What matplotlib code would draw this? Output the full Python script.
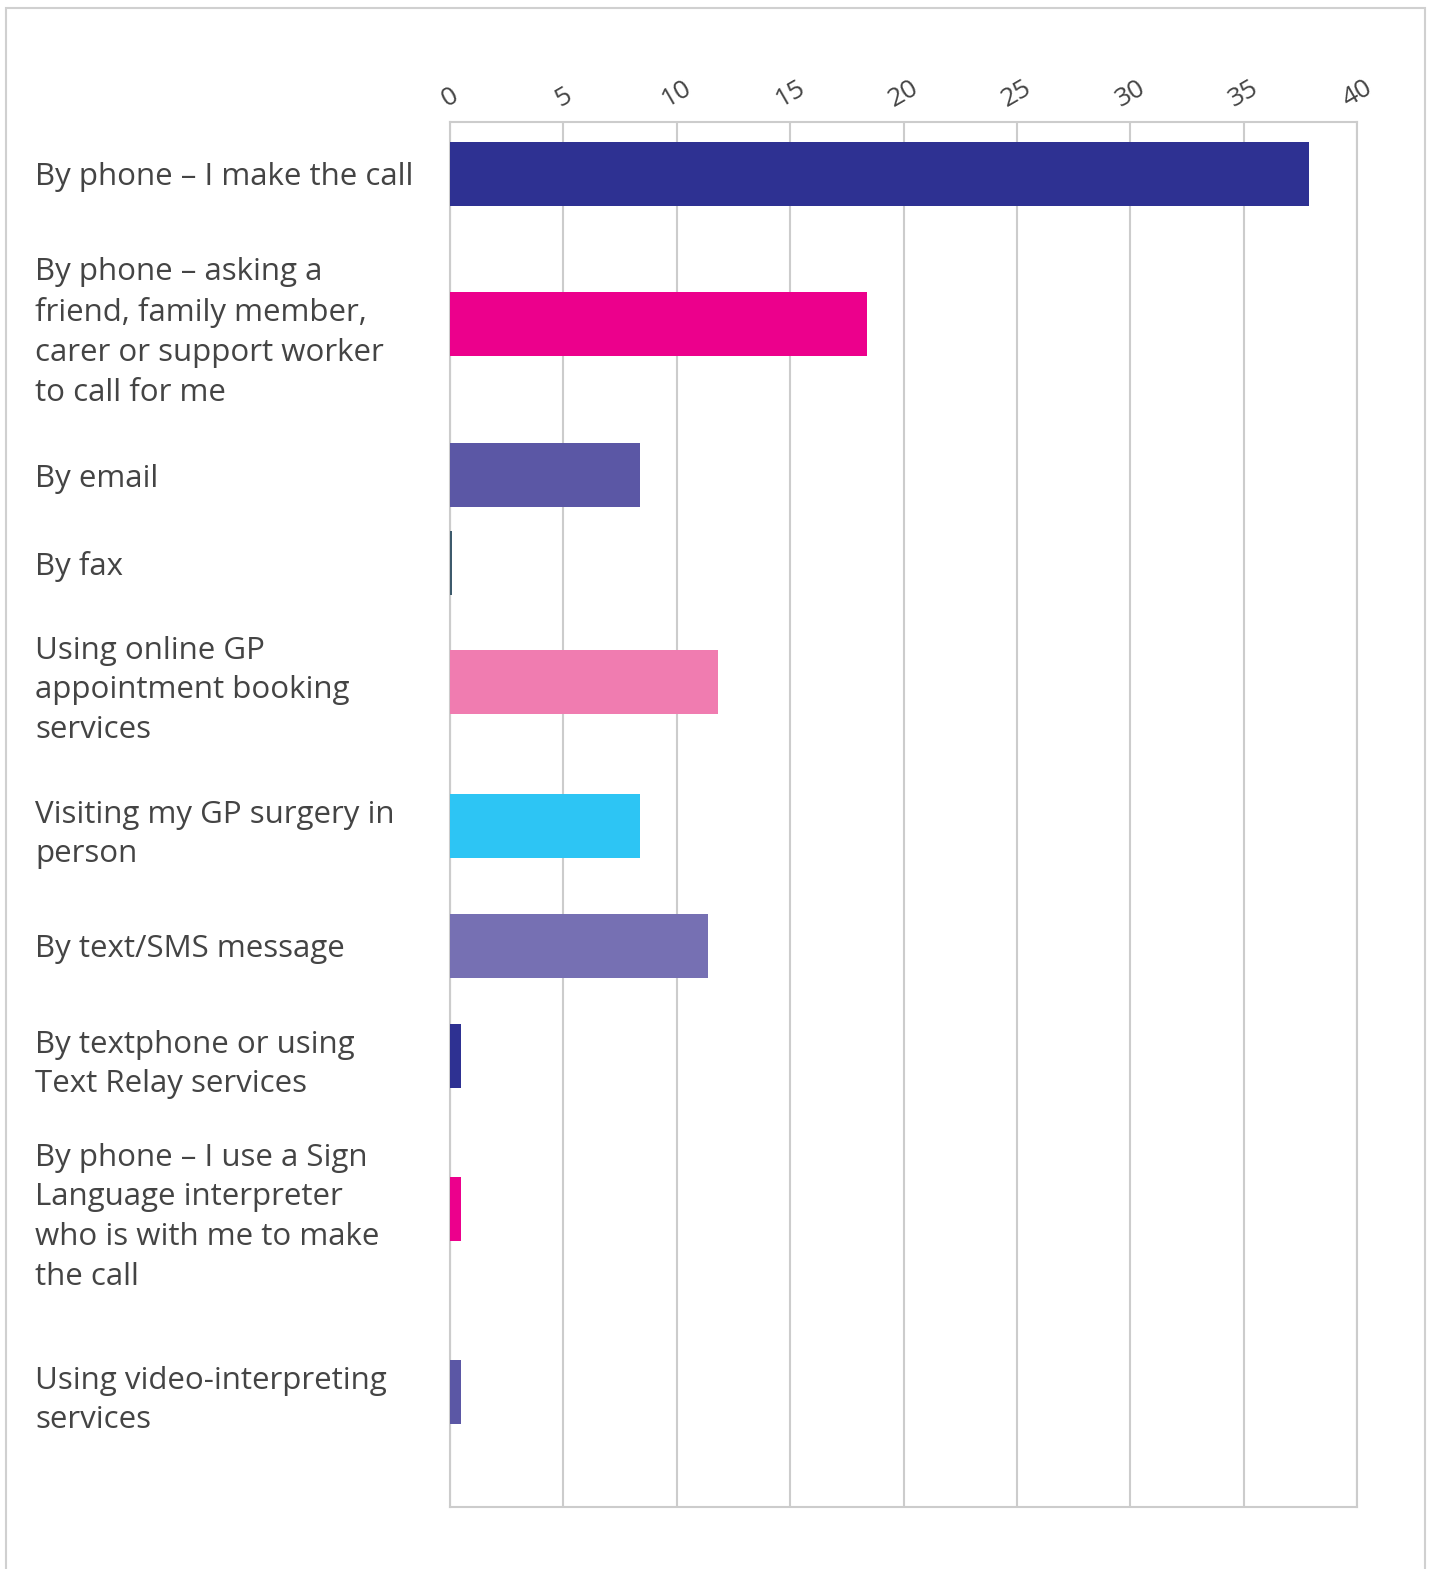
import matplotlib
matplotlib.use("Agg")
import matplotlib.pyplot as plt
from matplotlib.patches import Rectangle

# answers and counts
labels = [
    "By phone \u2013 I make the call",
    "By phone \u2013 asking a\nfriend, family member,\ncarer or support worker\nto call for me",
    "By email",
    "By fax",
    "Using online GP\nappointment booking\nservices",
    "Visiting my GP surgery in\nperson",
    "By text/SMS message",
    "By textphone or using\nText Relay services",
    "By phone \u2013 I use a Sign\nLanguage interpreter\nwho is with me to make\nthe call",
    "Using video-interpreting\nservices",
]
values = [37.9, 18.4, 8.4, 0.1, 11.8, 8.4, 11.4, 0.5, 0.5, 0.5]
colors = ["#2e3192", "#ec008c", "#5b57a5", "#3d5a6c", "#f07cb0",
          "#2dc5f4", "#7670b3", "#2e3192", "#ec008c", "#5b57a5"]
ticks = [0, 5, 10, 15, 20, 25, 30, 35, 40]

# row centres (layout, in pixel rows of the original figure)
rows = [174, 324, 475, 563, 682, 826, 946, 1056, 1209, 1392]

plt.rcParams['font.family'] = ['Open Sans', 'DejaVu Sans']

fig = plt.figure(figsize=(14.35, 15.69), dpi=100)
fig.patches.append(Rectangle((6/1435, -0.01), 1419/1435, 1 - 8/1569 + 0.01,
                             transform=fig.transFigure, fill=False,
                             edgecolor="#d0d0d0", linewidth=1.5))
ax = fig.add_axes([450/1435, 1 - 1507/1569, 907/1435, 1385/1569])

ax.barh(rows, values, height=64, color=colors, zorder=3)
ax.set_xlim(0, 40)
ax.set_ylim(1507, 122)

ax.set_xticks(ticks)
ax.xaxis.tick_top()
ax.tick_params(axis='x', length=0, pad=7, labelsize=19, labelcolor="#444444")
for t in ax.get_xticklabels():
    t.set_rotation(30)
    t.set_ha('center')

ax.set_yticks(rows)
ax.set_yticklabels(labels, fontsize=22.5, color="#444444", linespacing=1.42, ha='left')
# pad in points: 415 px / 100 dpi * 72
ax.tick_params(axis='y', length=0, pad=415 * 0.72)

ax.grid(axis='x', color="#cccccc", linewidth=1.5, zorder=0)
for s in ax.spines.values():
    s.set_color("#cccccc")
    s.set_linewidth(1.5)

fig.savefig("out.png", dpi=100)
